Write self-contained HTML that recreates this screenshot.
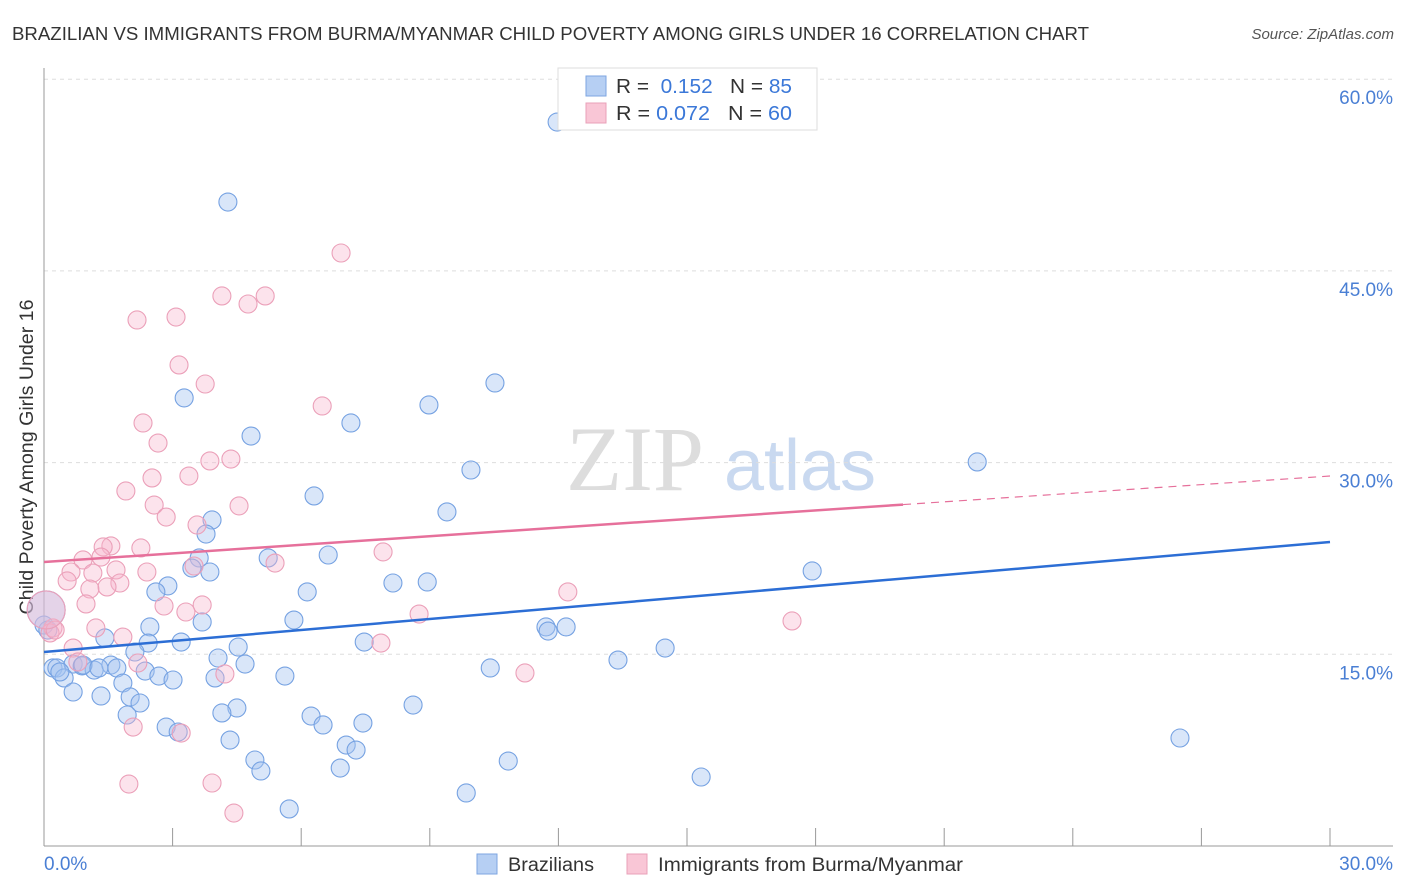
<!DOCTYPE html>
<html><head><meta charset="utf-8"><style>
body{margin:0;background:#fff;font-family:"Liberation Sans",sans-serif;}
svg{display:block}
</style></head><body>
<svg id="c" width="1406" height="892">
<text x="12" y="40" font-size="18.5" fill="#333" textLength="1077" lengthAdjust="spacingAndGlyphs">BRAZILIAN VS IMMIGRANTS FROM BURMA/MYANMAR CHILD POVERTY AMONG GIRLS UNDER 16 CORRELATION CHART</text>
<text x="1394" y="39" font-size="15" fill="#555" font-style="italic" text-anchor="end">Source: ZipAtlas.com</text>
<text transform="translate(33,457) rotate(-90)" font-size="19" fill="#333" text-anchor="middle" textLength="315" lengthAdjust="spacingAndGlyphs">Child Poverty Among Girls Under 16</text>
<g><text x="635" y="490" font-size="92" fill="#ddd" font-family="Liberation Serif,serif" text-anchor="middle">ZIP</text><text x="800" y="490" font-size="72" fill="#c9d9f0" text-anchor="middle">atlas</text></g>
<g id="grid"></g><g id="axes"></g><g id="pts"></g><g id="lines"></g>
<g>
<rect x="558" y="68" width="259" height="62" fill="#fff" stroke="#ddd"/>
<rect x="586" y="76" width="20" height="20" fill="#b6cff3" stroke="#7ea6e0"/>
<rect x="586" y="103" width="20" height="20" fill="#f9c6d6" stroke="#e9a0b8"/>
<text x="616" y="93" font-size="20" fill="#333" textLength="176" lengthAdjust="spacingAndGlyphs">R = <tspan fill="#3b78d8">&#160;0.152</tspan>&#160;&#160;&#160;N = <tspan fill="#3b78d8">85</tspan></text>
<text x="616" y="120" font-size="20" fill="#333" textLength="176" lengthAdjust="spacingAndGlyphs">R = <tspan fill="#3b78d8">0.072</tspan>&#160;&#160;&#160;N = <tspan fill="#3b78d8">60</tspan></text>
</g>
<g>
<rect x="477" y="854" width="20" height="20" fill="#b6cff3" stroke="#7ea6e0"/>
<text x="508" y="871" font-size="19" fill="#333" textLength="86" lengthAdjust="spacingAndGlyphs">Brazilians</text>
<rect x="627" y="854" width="20" height="20" fill="#f9c6d6" stroke="#e9a0b8"/>
<text x="658" y="871" font-size="19" fill="#333" textLength="305" lengthAdjust="spacingAndGlyphs">Immigrants from Burma/Myanmar</text>
</g>
</svg>
<script>
const yTicks=[15,30,45,60];
const yTickLabels=["15.0%","30.0%","45.0%","60.0%"];
const blueX=[11.97,4.29,10.52,8.98,3.27,7.16,4.83,9.96,6.30,9.40,3.92,3.78,21.77,5.23,6.63,3.62,3.45,17.92,8.94,8.14,2.89,2.61,6.14,5.83,3.69,11.71,12.18,11.76,2.47,1.42,2.43,3.20,7.47,4.53,2.12,14.49,13.39,4.06,0.21,0.30,0.68,0.89,1.17,1.56,1.70,2.36,2.68,3.01,3.99,5.62,10.41,0.47,1.84,0.68,1.33,2.01,2.24,8.61,4.50,4.15,1.94,6.23,6.51,7.44,2.85,3.13,4.34,7.05,7.28,26.50,4.92,5.06,6.91,10.83,15.33,5.72,9.85,0.00,0.09,0.91,1.28,0.37,3.87,4.69,0.05];
const blueY=[56.65,50.39,36.23,34.51,35.06,33.10,32.08,29.42,27.39,26.14,25.51,24.41,30.05,22.54,22.77,22.54,21.75,21.52,20.66,20.58,20.35,19.88,19.88,17.68,17.53,17.14,17.14,16.82,17.14,16.28,15.88,15.96,15.96,15.57,15.18,15.49,14.55,14.71,13.93,13.93,14.24,14.09,13.77,14.16,13.93,13.69,13.30,12.99,13.15,13.30,13.93,13.15,12.75,12.05,11.74,11.66,11.19,11.03,10.80,10.41,10.25,10.17,9.47,9.62,9.31,8.92,8.29,7.90,7.51,8.45,6.73,5.87,6.10,6.65,5.40,2.90,4.15,17.29,16.90,14.16,13.93,13.62,21.44,14.24,18.47];
const pinkX=[6.93,4.15,5.16,4.76,2.17,3.08,3.15,3.76,6.49,2.31,2.66,3.87,4.36,2.52,3.38,1.91,2.57,2.85,4.55,3.57,1.56,1.38,2.26,0.91,1.33,0.63,1.14,1.68,2.40,3.50,0.54,1.77,1.47,1.07,7.91,5.39,12.22,0.98,2.80,3.69,3.31,8.75,17.45,1.21,1.84,7.86,0.21,0.14,0.68,0.79,2.19,4.22,11.22,2.08,3.20,1.98,3.92,4.43,0.26,0.05];
const pinkY=[46.40,43.04,43.04,42.41,41.16,41.39,37.64,36.15,34.43,33.10,31.53,30.13,30.28,28.80,28.95,27.78,26.68,25.74,26.61,25.12,23.48,23.40,23.32,22.38,22.61,21.44,21.36,21.60,21.44,21.91,20.74,20.58,20.27,20.11,23.01,22.14,19.88,18.94,18.78,18.86,18.31,18.15,17.61,17.06,16.35,15.88,17.06,16.67,15.49,14.40,14.32,13.46,13.54,9.31,8.84,4.85,4.93,2.58,16.90,18.47];
const blueTrend=[15.18,23.79];
const pinkTrend=[22.22,28.95];
const pinkSolidEnd=20.04;
const NS="http://www.w3.org/2000/svg";
const X0=44,X1=1330,Y0=846,PX=191.7/15;
function sx(v){return X0+(X1-X0)*v/30;}
function sy(v){return Y0-v*PX;}
function mk(t,a,p){const e=document.createElementNS(NS,t);for(const k in a)e.setAttribute(k,a[k]);document.getElementById(p).appendChild(e);return e;}
yTicks.forEach((t,i)=>{
 const g=mk('line',{x1:44,x2:1393,y1:sy(t),y2:sy(t),stroke:'#ddd','stroke-dasharray':'4,4'},'grid');
 
 
 const l=mk('text',{x:1393,y:sy(t)+25,'font-size':19,fill:'#4a7fd4','text-anchor':'end'},'axes');
 l.textContent=yTickLabels[i];
 
 
});
mk('line',{x1:44,x2:44,y1:68,y2:846,stroke:'#999'},'axes');
mk('line',{x1:44,x2:1393,y1:846,y2:846,stroke:'#999'},'axes');
for(let i=1;i<=10;i++){const t=mk('line',{x1:sx(i*3),x2:sx(i*3),y1:828,y2:846,stroke:'#999'},'axes');
 
 }
const xl0=mk('text',{x:44,y:870,'font-size':19,fill:'#4a7fd4'},'axes');xl0.textContent='0.0%';


const xl1=mk('text',{x:1393,y:870,'font-size':19,fill:'#4a7fd4','text-anchor':'end'},'axes');xl1.textContent='30.0%';


function dots(xs,ys,fill,stroke,name){xs.forEach((x,i)=>{const big=(i===xs.length-1);
 const c=mk('circle',{cx:sx(x),cy:sy(ys[i]),r:big?19:9,fill:fill,stroke:stroke,'stroke-width':1.1},'pts');
 
 });}
dots(blueX,blueY,'rgba(164,196,240,0.42)','#76a2e2','point-brazilian');
dots(pinkX,pinkY,'rgba(246,182,204,0.38)','#eba0b9','point-burma');
const bl=mk('line',{x1:sx(0),y1:sy(blueTrend[0]),x2:sx(30),y2:sy(blueTrend[1]),stroke:'#2c6ed5','stroke-width':2.5},'lines');


const pe=pinkTrend[0]+(pinkTrend[1]-pinkTrend[0])*pinkSolidEnd/30;
const pl=mk('line',{x1:sx(0),y1:sy(pinkTrend[0]),x2:sx(pinkSolidEnd),y2:sy(pe),stroke:'#e6709b','stroke-width':2.5},'lines');


const pd=mk('line',{x1:sx(pinkSolidEnd),y1:sy(pe),x2:sx(30),y2:sy(pinkTrend[1]),stroke:'#e6709b','stroke-width':1.2,'stroke-dasharray':'8,6'},'lines');


</script>
</body></html>
